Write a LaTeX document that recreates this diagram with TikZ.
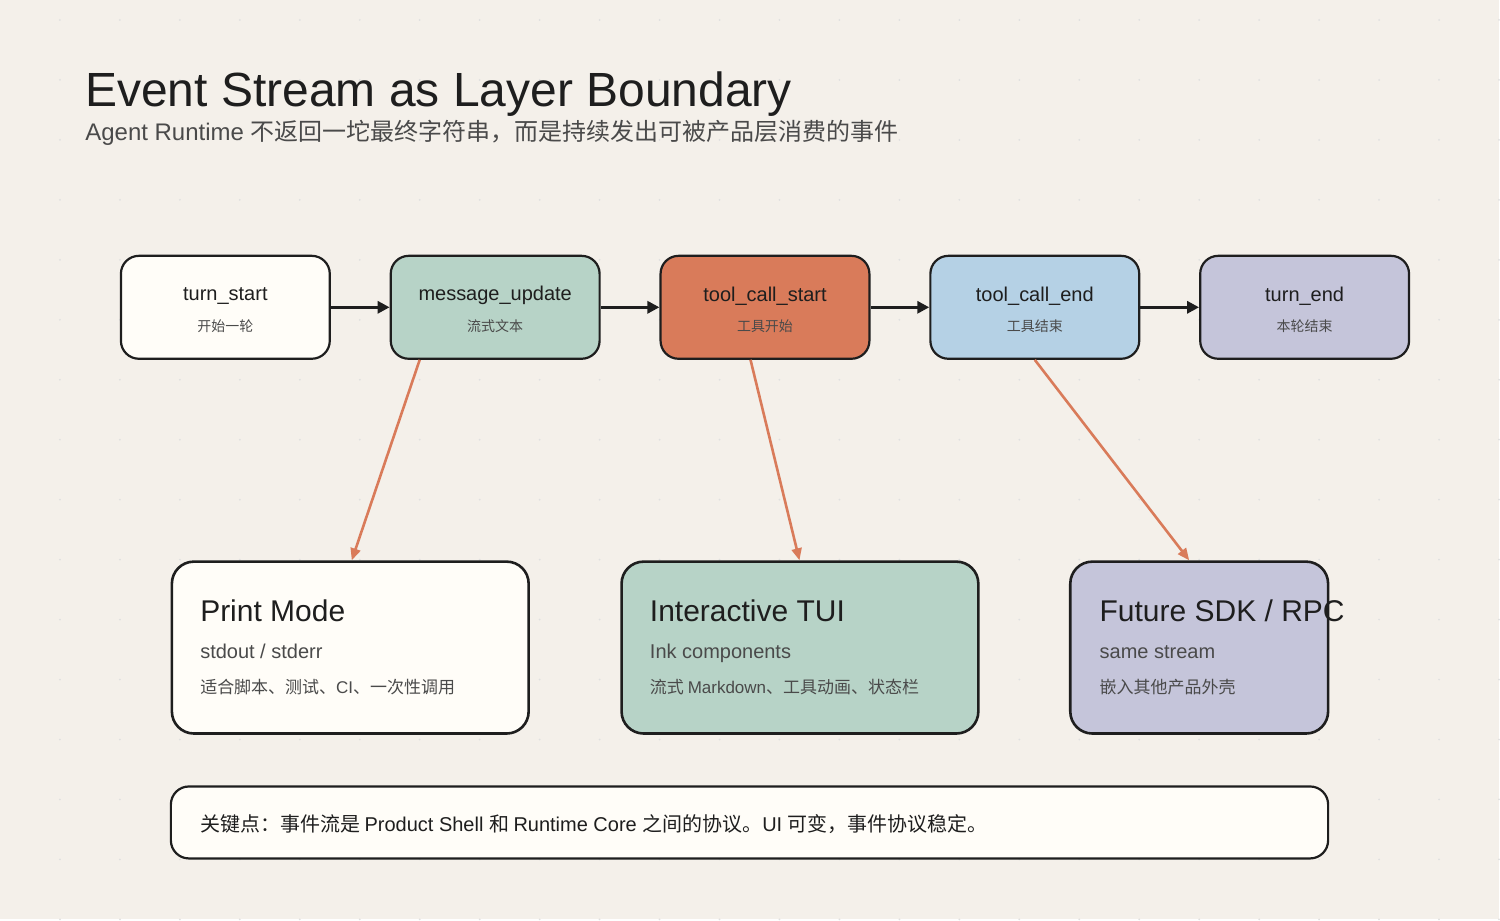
\documentclass[tikz,border=0pt]{standalone}
\usepackage{fontspec}
\setmainfont{Liberation Sans}
\newfontfamily\cjk{Noto Sans CJK SC}
\usetikzlibrary{arrows.meta}
\definecolor{paper}{HTML}{F4F0EA}
\definecolor{ink}{HTML}{1E1E1E}
\definecolor{soft}{HTML}{4A4A4A}
\definecolor{cream}{HTML}{FFFDF8}
\definecolor{sage}{HTML}{B7D3C7}
\definecolor{clay}{HTML}{D97B5A}
\definecolor{sky}{HTML}{B5D1E5}
\definecolor{lilac}{HTML}{C5C5DA}

\begin{document}
\begin{tikzpicture}[x=0.5pt, y=-0.5pt,
  event/.style={draw=ink, line width=1.1pt, rounded corners=9pt, minimum width=104.5pt, minimum height=51.5pt},
  panel/.style={draw=ink, line width=1.3pt, rounded corners=11pt},
  head/.style={anchor=base west, inner sep=0, font=\fontsize{15}{18}\selectfont, text=ink},
  sub/.style={anchor=base west, inner sep=0, font=\fontsize{10}{12}\selectfont, text=soft},
  note/.style={anchor=base west, inner sep=0, font=\fontsize{8.5}{10}\selectfont, text=soft},
  flow/.style={-{Triangle[length=6pt,width=6pt]}, draw=ink, line width=1.6pt},
  feed/.style={-{Triangle[length=6pt,width=5pt]}, draw=clay, line width=1.3pt}]
\fill[paper] (0,0) rectangle (1500,920);
\foreach \i in {0,...,24} \foreach \j in {0,...,15}
  \fill[black!12] (\i*60+60,\j*60+20) circle (0.5pt);
% title
\node[anchor=base west, font=\fontsize{24}{28}\selectfont, text=ink, inner sep=0] (title) at (85,107) {Event Stream as Layer Boundary};
\node[anchor=base west, font=\fontsize{12}{14}\selectfont, text=soft, inner sep=0] (subtitle) at (85,141)
  {Agent Runtime {\cjk 不返回一坨最终字符串，而是持续发出可被产品层消费的事件}};
% event row
\foreach \name/\x/\col/\lbl/\cn in {ts/225.5/cream/turn\_start/开始一轮, mu/495.5/sage/message\_update/流式文本,
    tcs/765.5/clay/tool\_call\_start/工具开始, tce/1035.5/sky/tool\_call\_end/工具结束, te/1305.5/lilac/turn\_end/本轮结束} {
  \node[event, fill=\col] (\name) at (\x,307.5) {};
  \node[font=\fontsize{10}{12}\selectfont, text=ink] at (\x,296) {\lbl};
  \node[font=\fontsize{7}{8}\selectfont\cjk, text=soft] at (\x,326) {\cn};
}
\draw[flow] (ts) -- (mu);
\draw[flow] (mu) -- (tcs);
\draw[flow] (tcs) -- (tce);
\draw[flow] (tce) -- (te);
% consumers
\node[panel, fill=cream, minimum width=178.5pt, minimum height=86pt] (print) at (350.5,648) {};
\node[head] at (200,622) {Print Mode};
\node[sub] at (200,659) {stdout / stderr};
\node[note] at (200,694) {{\cjk 适合脚本、测试、}CI{\cjk 、一次性调用}};
\node[panel, fill=sage, minimum width=178.5pt, minimum height=86pt] (tui) at (800.5,648) {};
\node[head] at (650,622) {Interactive TUI};
\node[sub] at (650,659) {Ink components};
\node[note] at (650,694) {{\cjk 流式 }Markdown{\cjk 、工具动画、状态栏}};
\node[panel, fill=lilac, minimum width=129pt, minimum height=86pt] (sdk) at (1200,648) {};
\node[head] at (1100,622) {Future SDK / RPC};
\node[sub] at (1100,659) {same stream};
\node[note] at (1100,694) {\cjk 嵌入其他产品外壳};
\draw[feed] (420,360) -- (print.north -| 352,0);
\draw[feed] (751,360) -- (tui.north -| 800,0);
\draw[feed] (tce.south) -- (sdk.north -| 1190,0);
% footer
\node[panel, line width=1.1pt, rounded corners=9pt, fill=cream, minimum width=579pt, minimum height=36pt] (keynote) at (750,823) {};
\node[anchor=base west, inner sep=0, font=\fontsize{10}{12}\selectfont, text=ink] at (200,832)
  {{\cjk 关键点：事件流是 }Product Shell {\cjk 和 }Runtime Core {\cjk 之间的协议。}UI {\cjk 可变，事件协议稳定。}};
\end{tikzpicture}
\end{document}
